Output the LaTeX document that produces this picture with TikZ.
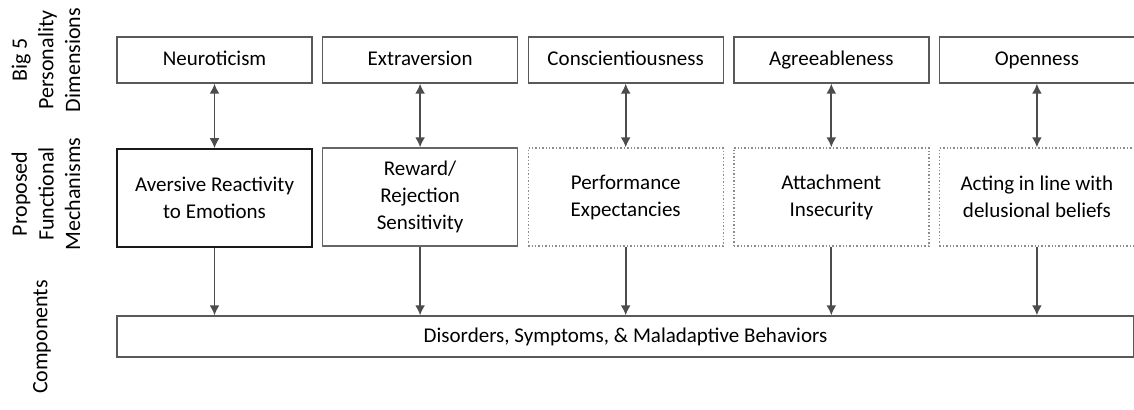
\documentclass[tikz,border=0pt]{standalone}
\usepackage{fontspec}
\setmainfont{Carlito}
\usetikzlibrary{arrows.meta}

\begin{document}
\begin{tikzpicture}[x=0.5pt, y=-0.5pt,
                    >={Latex[length=5pt, width=5pt]},
                    dimbox/.style = {draw=black!65, line width=0.7pt,
                      minimum width=97.5pt, minimum height=23pt,
                      text height=1.6ex, text depth=0.35ex,
                      font=\fontsize{10.5}{13}\selectfont},
                    mechbox/.style = {draw=black!60, line width=0.7pt,
                      minimum width=97.5pt, minimum height=49pt,
                      align=center, font=\fontsize{10.5}{13.5}\selectfont},
                    propbox/.style = {mechbox, draw=black!45, densely dotted},
                    sidelabel/.style = {rotate=90, align=center,
                      font=\fontsize{11}{13.3}\selectfont},
                    link/.style = {draw=black!70, line width=0.85pt}]
  \useasboundingbox (0,0) rectangle (1134,410);

  % row labels
  \node[sidelabel] (lbig)  at (46,60)  {Big 5\\Personality\\Dimensions};
  \node[sidelabel] (lmech) at (46,194) {Proposed\\Functional\\Mechanisms};
  \node[sidelabel] (lcomp) at (42,337) {Components};

  % big five
  \node[dimbox] (neuro) at (214.5,60)  {Neuroticism};
  \node[dimbox] (extra) at (420.1,60)  {Extraversion};
  \node[dimbox] (consc) at (625.7,60)  {Conscientiousness};
  \node[dimbox] (agree) at (831.3,60)  {Agreeableness};
  \node[dimbox] (open)  at (1036.9,60) {Openness};

  % mechanisms
  \node[mechbox, draw=black!90, line width=0.8pt] (avers) at (214.5,198)
    {Aversive Reactivity\\to Emotions};
  \node[mechbox] (rejec) at (420.1,197) {Reward/\\Rejection\\Sensitivity};
  \node[propbox] (perf)  at (625.7,197) {Performance\\Expectancies};
  \node[propbox] (attach) at (831.3,197) {Attachment\\Insecurity};
  \node[propbox] (delus) at (1036.9,197) {Acting in line with\\delusional beliefs};

  % components
  \node[dimbox, minimum width=508.5pt, minimum height=20.5pt] (disord)
    at (625.5,336.5) {Disorders, Symptoms, \& Maladaptive Behaviors};

  \draw[link, <->] (neuro) -- (avers);
  \draw[link, <->] (extra) -- (rejec);
  \draw[link, <->] (consc) -- (perf);
  \draw[link, <->] (agree) -- (attach);
  \draw[link, <->] (open)  -- (delus);

  \draw[link, ->] (avers)  -- (avers |- disord.north);
  \draw[link, ->] (rejec)  -- (rejec |- disord.north);
  \draw[link, ->] (perf)   -- (perf |- disord.north);
  \draw[link, ->] (attach) -- (attach |- disord.north);
  \draw[link, ->] (delus)  -- (delus |- disord.north);
\end{tikzpicture}
\end{document}
